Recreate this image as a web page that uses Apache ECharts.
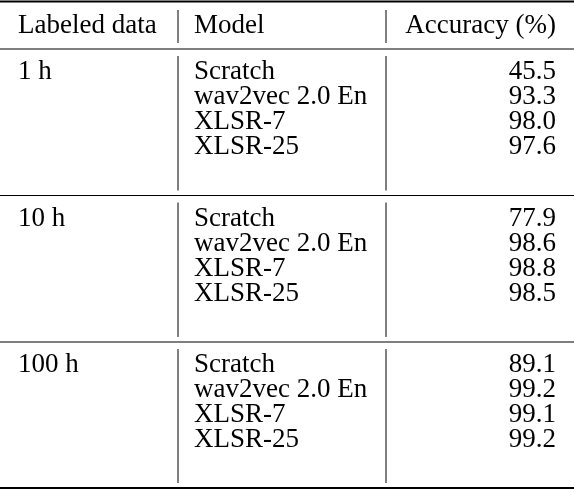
<!DOCTYPE html>
<html><head><meta charset="utf-8">
<script src="https://cdn.jsdelivr.net/npm/echarts@6/dist/echarts.min.js"></script>
<style>html,body{margin:0;padding:0;background:#fff}#c{width:574px;height:492px}</style>
</head><body><div id="c"></div>
<script>
const headers = ['Labeled data', 'Model', 'Accuracy (%)'];
const groups = ['1 h', '10 h', '100 h'];
const models = ['Scratch', 'wav2vec 2.0 En', 'XLSR-7', 'XLSR-25'];
const accuracy = [
  [45.5, 93.3, 98.0, 97.6],
  [77.9, 98.6, 98.8, 98.5],
  [89.1, 99.2, 99.1, 99.2]
];

const chart = echarts.init(document.getElementById('c'), null, {renderer: 'canvas'});
const font = '"Liberation Serif", "Times New Roman", serif';
const fs = 27;
const x1 = 18, x2 = 194, x3 = 556, sep1 = 178, sep2 = 386;
const headerY = 26, groupTop = [49, 195.5, 342], rowH = 25, bottomY = 488;
const els = [];
function txt(x, y, s, align) {
  els.push({type: 'text', x: x, y: y, style: {text: s, font: fs + 'px ' + font, fill: '#000', align: align || 'left', verticalAlign: 'middle'}});
}
function hline(y, w) {
  els.push({type: 'line', shape: {x1: 0, y1: y, x2: 574, y2: y}, style: {stroke: '#000', lineWidth: w}});
}
function vline(x, ya, yb) {
  els.push({type: 'line', shape: {x1: x, y1: ya, x2: x, y2: yb}, style: {stroke: '#000', lineWidth: 1}});
}
hline(1.5, 2);
txt(x1, headerY, headers[0]); txt(x2, headerY, headers[1]); txt(x3, headerY, headers[2], 'right');
vline(sep1, 10, 43); vline(sep2, 10, 43);
groups.forEach((g, gi) => {
  const t = groupTop[gi];
  hline(t, 1.2);
  txt(x1, t + 23, g);
  models.forEach((m, mi) => {
    const y = t + 23 + mi * rowH;
    txt(x2, y, m);
    txt(x3, y, accuracy[gi][mi].toFixed(1), 'right');
  });
  const end = gi < groups.length - 1 ? groupTop[gi + 1] - 5 : bottomY - 5;
  vline(sep1, t + 7, end); vline(sep2, t + 7, end);
});
hline(bottomY, 2);
chart.setOption({animation: false, graphic: {elements: els}});
</script></body></html>
